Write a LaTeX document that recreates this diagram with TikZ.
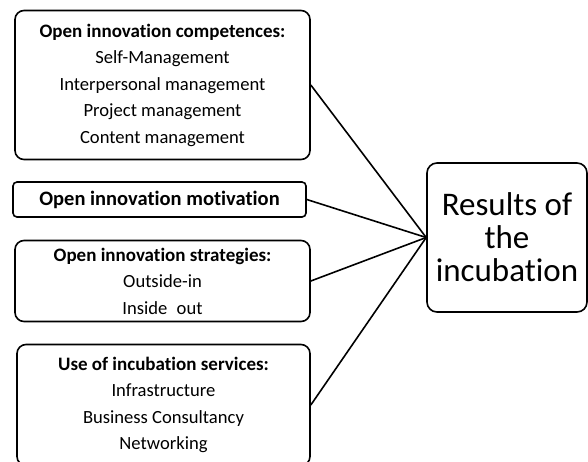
\documentclass[tikz,border=0pt]{standalone}
\usepackage{fontspec}
\setmainfont{Carlito}[Ligatures=NoCommon]
\usetikzlibrary{positioning}
\tikzset{factor/.style={draw, line width=1.6pt, rounded corners=9pt, align=center,
    inner sep=0pt, font=\fontsize{18.6}{26.5}\selectfont},
    result/.style={factor, rounded corners=10pt, font=\fontsize{33}{33}\selectfont},
    link/.style={line width=1.6pt}}
\def\head#1{\textbf{\fontsize{19}{26.5}\selectfont #1}}

\begin{document}
\begin{tikzpicture}[x=1pt, y=-1pt]
    \useasboundingbox (0,0) rectangle (588,461);
    \node[factor, minimum width=295pt, minimum height=149pt] (comp) at (162.5,85)
        {\head{Open innovation competences:}\\ Self-Management\\ Interpersonal management\\
         Project management\\ Content management};
    \node[factor, rounded corners=4pt, minimum width=293pt, minimum height=35pt] (motiv) at (159.5,199.5)
        {\textbf{\fontsize{20.5}{22}\selectfont Open innovation motivation}};
    \node[factor, minimum width=295pt, minimum height=81pt] (strat) at (162.5,281)
        {\head{Open innovation strategies:}\\ Outside-in\\ Inside\enspace out};
    \node[factor, minimum width=293pt, minimum height=121pt] (serv) at (163.5,405)
        {\head{Use of incubation services:}\\ Infrastructure\\ Business Consultancy\\ Networking};
    \node[result, minimum width=160pt, minimum height=149pt] (res) at (507,237.5)
        {Results of\\ the\\ incubation};
    \foreach \src in {comp, motiv, strat, serv}
        \draw[link] (\src.east) -- (res.west);
\end{tikzpicture}
\end{document}
